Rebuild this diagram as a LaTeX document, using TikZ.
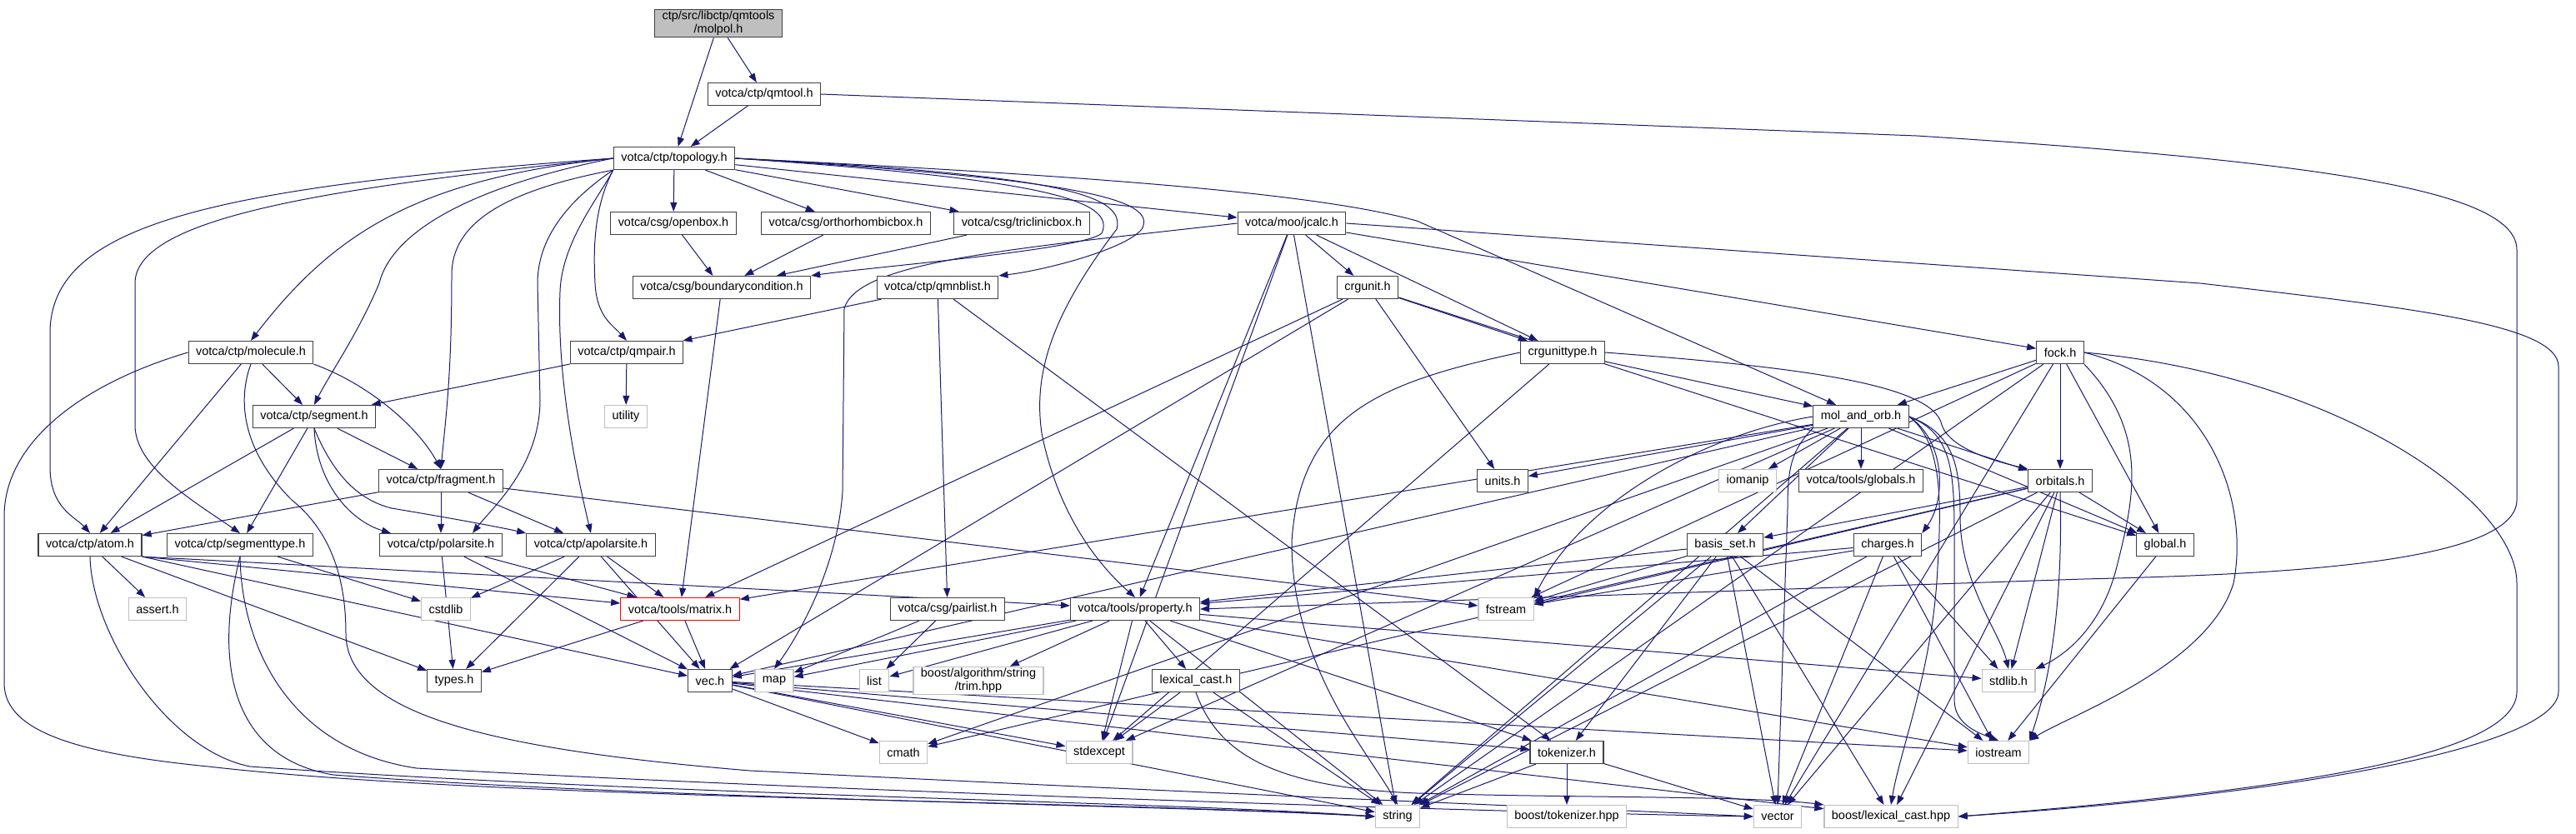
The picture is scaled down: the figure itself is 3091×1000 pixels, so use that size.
\documentclass[tikz,border=0pt]{standalone}
\usepackage{fontspec}
\setmainfont{Liberation Sans}
\usetikzlibrary{arrows.meta, backgrounds}

\definecolor{incblue}{HTML}{191970}
\definecolor{boxline}{HTML}{404040}
\definecolor{sysline}{HTML}{BFBFBF}

\begin{document}
\begin{tikzpicture}[
  x=1bp, y=-1bp,
  hdr/.style={draw=boxline, line width=1.2bp, fill=white, align=center,
              font=\fontsize{14.5}{16}\selectfont,
              inner xsep=9bp, inner ysep=2bp, minimum height=27bp},
  sys/.style={hdr, draw=sysline},
  root/.style={hdr, fill=sysline},
  bad/.style={hdr, draw=red},
  inc/.style={-{Triangle[length=11bp, width=8bp]}, color=incblue, line width=1bp}
]
\useasboundingbox (0,0) rectangle (3091,1000);

% header files
\node[root] (molpol) at (862,28) {ctp/src/libctp/qmtools\\/molpol.h};
\node[hdr] (qmtool) at (917,113) {votca/ctp/qmtool.h};
\node[hdr] (topology) at (809,190) {votca/ctp/topology.h};

\node[hdr] (openbox) at (808,268) {votca/csg/openbox.h};
\node[hdr] (orthobox) at (1015,268) {votca/csg/orthorhombicbox.h};
\node[hdr] (tricbox) at (1226,268) {votca/csg/triclinicbox.h};
\node[hdr] (jcalc) at (1550,268) {votca/moo/jcalc.h};

\node[hdr] (boundary) at (866,345) {votca/csg/boundarycondition.h};
\node[hdr] (qmnblist) at (1125,345) {votca/ctp/qmnblist.h};
\node[hdr] (crgunit) at (1641,345) {crgunit.h};

\node[hdr] (molecule) at (301,423) {votca/ctp/molecule.h};
\node[hdr] (qmpair) at (752,423) {votca/ctp/qmpair.h};
\node[hdr] (crgtype) at (1875,423) {crgunittype.h};
\node[hdr] (fock) at (2472,423) {fock.h};

\node[hdr] (segment) at (377,500) {votca/ctp/segment.h};
\node[sys] (utility) at (751,500) {utility};
\node[hdr] (molorb) at (2233,500) {mol\_and\_orb.h};

\node[hdr] (fragment) at (529,577) {votca/ctp/fragment.h};
\node[hdr] (units) at (1803,577) {units.h};
\node[sys] (iomanip) at (2097,577) {iomanip};
\node[hdr] (globals) at (2233,577) {votca/tools/globals.h};
\node[hdr] (orbitals) at (2472,577) {orbitals.h};

\node[hdr] (atom) at (108,654) {votca/ctp/atom.h};
\node[hdr] (segtype) at (288,654) {votca/ctp/segmenttype.h};
\node[hdr] (polarsite) at (529,654) {votca/ctp/polarsite.h};
\node[hdr] (apolarsite) at (709,654) {votca/ctp/apolarsite.h};
\node[hdr] (basisset) at (2070,654) {basis\_set.h};
\node[hdr] (charges) at (2265,654) {charges.h};
\node[hdr] (global) at (2598,654) {global.h};

\node[sys] (assert) at (189,731) {assert.h};
\node[sys] (cstdlib) at (535,731) {cstdlib};
\node[bad] (matrix) at (816,731) {votca/tools/matrix.h};
\node[hdr] (pairlist) at (1137,731) {votca/csg/pairlist.h};
\node[hdr] (property) at (1362,731) {votca/tools/property.h};
\node[sys] (fstream) at (1807,731) {fstream};

\node[hdr] (types) at (545,817) {types.h};
\node[hdr] (vec) at (852,817) {vec.h};
\node[sys] (map) at (929,817) {map};
\node[sys] (list) at (1049,817) {list};
\node[sys] (trim) at (1174,817) {boost/algorithm/string\\/trim.hpp};
\node[hdr] (lexcast) at (1435,817) {lexical\_cast.h};
\node[sys] (stdlib) at (2410,817) {stdlib.h};

\node[sys] (cmath) at (1084,903) {cmath};
\node[sys] (stdexcept) at (1319,903) {stdexcept};
\node[hdr] (tokenizer) at (1880,903) {tokenizer.h};
\node[sys] (iostream) at (2398,903) {iostream};

\node[sys] (string) at (1677,980) {string};
\node[sys] (boosttok) at (1880,980) {boost/tokenizer.hpp};
\node[sys] (vector) at (2133,980) {vector};
\node[sys] (boostlex) at (2269,980) {boost/lexical\_cast.hpp};

\begin{scope}[on background layer]
\fill[white] (0,0) rectangle (3091,1000);

% includes drawn straight
\foreach \src/\dst in {molpol/topology, molpol/qmtool, qmtool/topology,
  topology/openbox, topology/orthobox, topology/tricbox, topology/jcalc,
  openbox/boundary, orthobox/boundary, tricbox/boundary, boundary/matrix,
  jcalc/crgunit, jcalc/crgtype, jcalc/fock, jcalc/property, jcalc/stdexcept, jcalc/string,
  qmnblist/qmpair, qmnblist/pairlist, qmnblist/tokenizer,
  qmpair/segment, qmpair/utility,
  molecule/segment, molecule/atom,
  segment/fragment, segment/atom, segment/segtype,
  fragment/atom, fragment/polarsite, fragment/apolarsite, fragment/fstream,
  atom/assert, atom/types,
  segtype/cstdlib,
  polarsite/types, polarsite/vec, polarsite/matrix,
  apolarsite/cstdlib, apolarsite/types, apolarsite/vec, apolarsite/matrix,
  matrix/vec, matrix/types,
  crgunit/crgtype, crgunit/units, crgunit/matrix, crgunit/vec, crgunit/global,
  crgtype/molorb, crgtype/stdexcept,
  fock/molorb, fock/orbitals, fock/global, fock/fstream, fock/string, fock/vector,
  molorb/units, molorb/iomanip, molorb/globals, molorb/orbitals, molorb/basisset,
  molorb/global, molorb/string, molorb/matrix, molorb/vec, molorb/stdexcept,
  molorb/cmath,
  orbitals/global, orbitals/basisset, orbitals/stdlib,
  orbitals/string, orbitals/vector, orbitals/boostlex, orbitals/fstream, orbitals/cmath,
  basisset/property, basisset/tokenizer, basisset/fstream, basisset/string,
  basisset/vector, basisset/iostream, basisset/boostlex,
  charges/property, charges/fstream, charges/stdlib, charges/iostream,
  charges/vector, charges/string,
  global/iostream,
  property/map, property/list, property/trim, property/lexcast, property/stdexcept,
  property/string, property/iostream, property/tokenizer, property/stdlib, property/vec,
  lexcast/stdexcept, lexcast/string,
  tokenizer/string, tokenizer/boosttok, tokenizer/vector,
  vec/cmath, vec/stdexcept, vec/iostream, vec/string, vec/tokenizer, vec/boostlex,
  pairlist/list, pairlist/map}
  \draw[inc] (\src) -- (\dst);
\foreach \dst in {property, matrix, vec}
  \draw[inc] (atom.south east) -- (\dst);

% routed includes
\draw[inc] (qmtool.east) -- (2300,163) .. controls (2800,195) and (3020,230) .. (3020,300)
  -- (3020,600) .. controls (3020,680) and (2700,690) .. (2500,695) -- (property.east);
\draw[inc] (jcalc.east) -- (2640,340) .. controls (2900,370) and (3070,390) .. (3070,440)
  -- (3070,830) .. controls (3070,890) and (2800,950) .. (boostlex.east);
\draw[inc] (fock.east) .. controls (2800,450) and (3020,600) .. (3020,700)
  -- (3020,830) .. controls (3020,900) and (2800,945) .. (boostlex.east);
\draw[inc] (topology.east) .. controls (1250,215) and (1340,240) .. (1322,280)
  .. controls (1300,300) and (1050,320) .. (boundary.north east);
\draw[inc] (topology.east) .. controls (1300,215) and (1390,240) .. (1370,275)
  .. controls (1350,300) and (1250,325) .. (qmnblist.north east);
\draw[inc] (topology.east) .. controls (1280,210) and (1350,235) .. (1340,275)
  .. controls (1260,380) and (1240,450) .. (1250,520)
  .. controls (1270,620) and (1320,680) .. (property.north);
\draw[inc] (topology.east) .. controls (1400,215) and (1600,238) .. (1700,265)
  -- ([xshift=-30bp]molorb.north);
\draw[inc] (topology.west) .. controls (250,225) and (60,270) .. (60,400)
  -- (60,560) .. controls (60,610) and (90,620) .. (atom.north);
\draw[inc] (topology.west) .. controls (400,225) and (162,260) .. (162,340)
  -- (162,510) .. controls (162,560) and (230,600) .. (segtype.north);
\draw[inc] (topology.west) .. controls (500,215) and (400,280) .. (molecule.north);
\draw[inc] (topology.west) .. controls (560,225) and (470,280) .. (455,340)
  .. controls (430,400) and (395,450) .. (segment.north);
\draw[inc] (topology.south west) .. controls (600,230) and (542,270) .. (542,330)
  .. controls (542,450) and (535,500) .. (fragment.north);
\draw[inc] (topology.south west) .. controls (690,235) and (645,280) .. (645,340)
  -- (648,480) .. controls (648,560) and (590,610) .. ([xshift=38bp]polarsite.north);
\draw[inc] (topology.south west) .. controls (720,235) and (674,290) .. (672,350)
  .. controls (668,450) and (690,560) .. (apolarsite.north);
\draw[inc] (topology.south west) .. controls (712,250) and (712,300) .. (714,340)
  .. controls (716,380) and (735,390) .. (qmpair.north);
\draw[inc] (jcalc.west) .. controls (1200,300) and (1030,315) .. (1013,370)
  -- (1011,590) .. controls (1005,680) and (960,760) .. (map.north);
\draw[inc] (molecule.south east) .. controls (440,460) and (500,510) .. (fragment.north);
\draw[inc] (segment.south) .. controls (380,580) and (420,625) .. ([xshift=-60bp]polarsite.north);
\draw[inc] (segment.south) .. controls (400,570) and (430,600) .. (470,610)
  .. controls (560,625) and (610,635) .. (apolarsite.north west);
\draw[inc] (molecule.west) .. controls (100,460) and (5,530) .. (5,620)
  -- (5,820) .. controls (5,880) and (100,905) .. (250,920)
  .. controls (600,960) and (1300,960) .. (string.west);
\draw[inc] (molecule.south) .. controls (285,480) and (290,540) .. (350,600)
  .. controls (400,640) and (415,700) .. (415,760)
  .. controls (415,860) and (600,900) .. (900,925)
  .. controls (1500,955) and (1900,970) .. (vector.west);
\draw[inc] (atom.south) .. controls (110,760) and (200,900) .. (300,920)
  .. controls (800,955) and (1400,962) .. (string.west);
\draw[inc] (segtype.south) .. controls (255,800) and (280,910) .. (400,930)
  .. controls (800,960) and (1400,966) .. (string.west);
\draw[inc] (segtype.south) .. controls (290,780) and (350,900) .. (500,922)
  .. controls (1000,950) and (1800,975) .. (vector.west);
\draw[inc] (crgtype.east) .. controls (2150,440) and (2320,460) .. (2330,510)
  .. controls (2340,540) and (2400,555) .. (orbitals.north west);
\draw[inc] (crgtype.west) .. controls (1650,460) and (1560,500) .. (1550,650)
  .. controls (1550,800) and (1640,900) .. (string.north);
\draw[inc] (molorb.east) .. controls (2335,530) and (2335,600) .. (charges.north east);
\draw[inc] (molorb.east) .. controls (2345,520) and (2352,560) .. (2352,620)
  .. controls (2352,700) and (2400,760) .. (stdlib.north);
\draw[inc] (molorb.east) .. controls (2340,520) and (2345,560) .. (2345,640)
  -- (2345,840) .. controls (2345,870) and (2375,880) .. (iostream.north);
\draw[inc] (molorb.east) .. controls (2330,530) and (2330,600) .. (2325,680)
  .. controls (2320,800) and (2280,900) .. (boostlex.north);
\draw[inc] (molorb.south west) .. controls (2150,540) and (2145,560) .. (2145,610)
  -- (vector.north);
\draw[inc] (molorb.west) .. controls (2050,520) and (1900,600) .. (fstream.north east);
\draw[inc] (fock.east) .. controls (2650,460) and (2700,600) .. (2680,700)
  .. controls (2650,800) and (2480,860) .. (iostream.north east);
\draw[inc] (fock.south east) .. controls (2580,520) and (2560,600) .. (2540,680)
  .. controls (2520,760) and (2470,790) .. (stdlib.north east);
\draw[inc] (orbitals.south) .. controls (2475,700) and (2465,800) .. (iostream.north east);
\draw[inc] (lexcast.south) .. controls (1460,900) and (1520,945) .. (1700,952)
  .. controls (1900,958) and (2100,955) .. (boostlex.north west);
\end{scope}
\end{tikzpicture}
\end{document}
